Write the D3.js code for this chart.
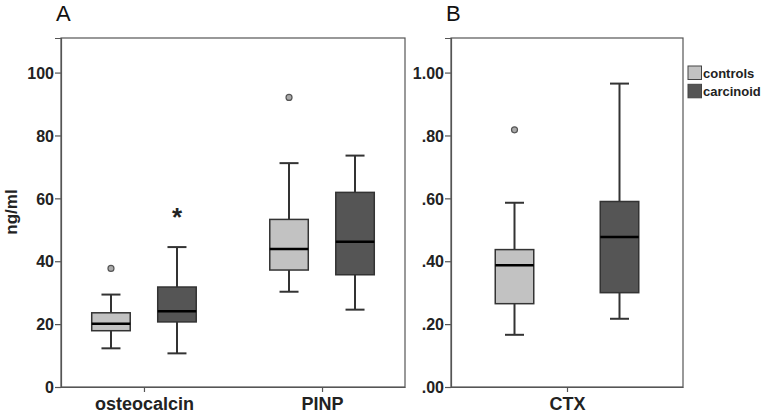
<!DOCTYPE html>
<html><head><meta charset="utf-8">
<script src="https://cdn.jsdelivr.net/npm/d3@7"></script>
<style>
html,body{margin:0;padding:0;background:#fff;}
svg{display:block;font-family:Arial,"Liberation Sans",sans-serif;}
</style></head>
<body><svg id="c" width="762" height="414"></svg>
<script>
const groups = ["controls", "carcinoid"];
const groupColors = ["#c2c2c2", "#555555"];
// Panel A (ng/ml)
const catsA = ["osteocalcin", "PINP"];
// [low whisker, Q1, median, Q3, high whisker]
const controlsA = [[12.3, 17.9, 20.1, 23.6, 29.4], [30.3, 37.2, 43.9, 53.3, 71.2]];
const carcinoidA = [[10.7, 20.7, 24.1, 31.8, 44.5], [24.6, 35.7, 46.2, 61.9, 73.6]];
const outliersA = [{cat: "osteocalcin", group: "controls", v: 37.7}, {cat: "PINP", group: "controls", v: 92.1}];
const starsA = [{cat: "osteocalcin", group: "carcinoid", v: 55.7}];
const ticksA = [0, 20, 40, 60, 80, 100];
// Panel B
const catsB = ["CTX"];
const controlsB = [[0.166, 0.265, 0.387, 0.437, 0.586]];
const carcinoidB = [[0.217, 0.300, 0.477, 0.590, 0.965]];
const outliersB = [{cat: "CTX", group: "controls", v: 0.818}];
const ticksB = [0, 0.2, 0.4, 0.6, 0.8, 1.0];
const tickLabelsB = [".00", ".20", ".40", ".60", ".80", "1.00"];

const svg = d3.select("#c");

function panel(opt) {
  const g = svg.append("g");
  const x = d3.scalePoint().domain(opt.cats).range([opt.x0, opt.x1]).padding(opt.pad);
  const sub = d3.scalePoint().domain(groups).range([-opt.off, opt.off]);
  const y = d3.scaleLinear().domain([0, opt.ymax]).range([387, 38]);
  const color = d3.scaleOrdinal().domain(groups).range(groupColors);
  const bw = 38.5, cw = 19;

  // frame
  g.append("rect").attr("x", opt.x0).attr("y", 38).attr("width", opt.x1 - opt.x0).attr("height", 349)
    .attr("fill", "none").attr("stroke", "#555").attr("stroke-width", 1.2);

  // y axis
  const ya = g.append("g").attr("transform", `translate(${opt.x0},0)`)
    .call(d3.axisLeft(y).tickValues(opt.ticks).tickSize(6).tickFormat((d, i) => opt.tickLabels ? opt.tickLabels[i] : d));
  ya.select(".domain").attr("stroke", "#555").attr("stroke-width", 1.2);
  ya.selectAll(".tick line").attr("stroke", "#555").attr("stroke-width", 1.2);
  ya.selectAll(".tick text").attr("font-size", 16).attr("font-weight", "bold").attr("fill", "#222").attr("x", -7).attr("dy", "0.36em");

  // x axis
  const xa = g.append("g").attr("transform", `translate(0,387)`)
    .call(d3.axisBottom(x).tickSize(5).tickSizeOuter(0));
  xa.select(".domain").attr("stroke", "#555").attr("stroke-width", 1.2);
  xa.selectAll(".tick line").attr("stroke", "#555").attr("stroke-width", 1.2);
  xa.selectAll(".tick text").attr("font-size", 18).attr("font-weight", "bold").attr("fill", "#222").attr("y", 10).attr("dy", "0.71em");

  const data = [];
  opt.cats.forEach((c, i) => {
    data.push({cat: c, group: "controls", s: opt.controls[i]});
    data.push({cat: c, group: "carcinoid", s: opt.carcinoid[i]});
  });
  const bx = g.selectAll(".bx").data(data).join("g")
    .attr("transform", d => `translate(${x(d.cat) + sub(d.group)},0)`);
  const st = "#333";
  bx.append("line").attr("y1", d => y(d.s[0])).attr("y2", d => y(d.s[1])).attr("stroke", st).attr("stroke-width", 2);
  bx.append("line").attr("y1", d => y(d.s[3])).attr("y2", d => y(d.s[4])).attr("stroke", st).attr("stroke-width", 2);
  bx.append("line").attr("x1", -cw / 2).attr("x2", cw / 2).attr("y1", d => y(d.s[0])).attr("y2", d => y(d.s[0])).attr("stroke", st).attr("stroke-width", 2);
  bx.append("line").attr("x1", -cw / 2).attr("x2", cw / 2).attr("y1", d => y(d.s[4])).attr("y2", d => y(d.s[4])).attr("stroke", st).attr("stroke-width", 2);
  bx.append("rect").attr("x", -bw / 2).attr("width", bw).attr("y", d => y(d.s[3])).attr("height", d => y(d.s[1]) - y(d.s[3]))
    .attr("fill", d => color(d.group)).attr("stroke", st).attr("stroke-width", 1.5);
  bx.append("line").attr("x1", -bw / 2).attr("x2", bw / 2).attr("y1", d => y(d.s[2])).attr("y2", d => y(d.s[2])).attr("stroke", "#000").attr("stroke-width", 2.5);

  g.selectAll(".out").data(opt.outliers).join("circle")
    .attr("cx", d => x(d.cat) + sub(d.group)).attr("cy", d => y(d.v)).attr("r", 3)
    .attr("fill", "#aaa").attr("stroke", "#555").attr("stroke-width", 1.2);

  g.selectAll(".star").data(opt.stars || []).join("text")
    .attr("x", d => x(d.cat) + sub(d.group)).attr("y", d => y(d.v)).attr("dy", "0.55em")
    .attr("text-anchor", "middle").attr("font-size", 26).attr("font-weight", "bold").attr("fill", "#222").text("*");

  g.append("text").attr("x", opt.x0 - 5).attr("y", 21).attr("font-size", 22).attr("fill", "#111").text(opt.label);
  return g;
}

panel({cats: catsA, x0: 61, x1: 405, pad: 0.466, off: 33, ymax: 111, ticks: ticksA,
  controls: controlsA, carcinoid: carcinoidA, outliers: outliersA, stars: starsA, label: "A"});
panel({cats: catsB, x0: 451, x1: 683, pad: 0.5, off: 52.5, ymax: 1.11, ticks: ticksB, tickLabels: tickLabelsB,
  controls: controlsB, carcinoid: carcinoidB, outliers: outliersB, label: "B"});

// y axis title
svg.append("text").attr("transform", "translate(17,212) rotate(-90)").attr("text-anchor", "middle")
  .attr("font-size", 17).attr("font-weight", "bold").attr("fill", "#222").text("ng/ml");

// legend
const lg = svg.append("g").attr("transform", "translate(688,66)");
const li = lg.selectAll("g").data(groups).join("g").attr("transform", (d, i) => `translate(0,${i * 18.3})`);
li.append("rect").attr("width", 13.5).attr("height", 13.5).attr("fill", (d, i) => groupColors[i]).attr("stroke", "#444").attr("stroke-width", 1);
li.append("text").attr("x", 15).attr("y", 12).attr("font-size", 13).attr("font-weight", "bold").attr("fill", "#222").text(d => d);
</script></body></html>
